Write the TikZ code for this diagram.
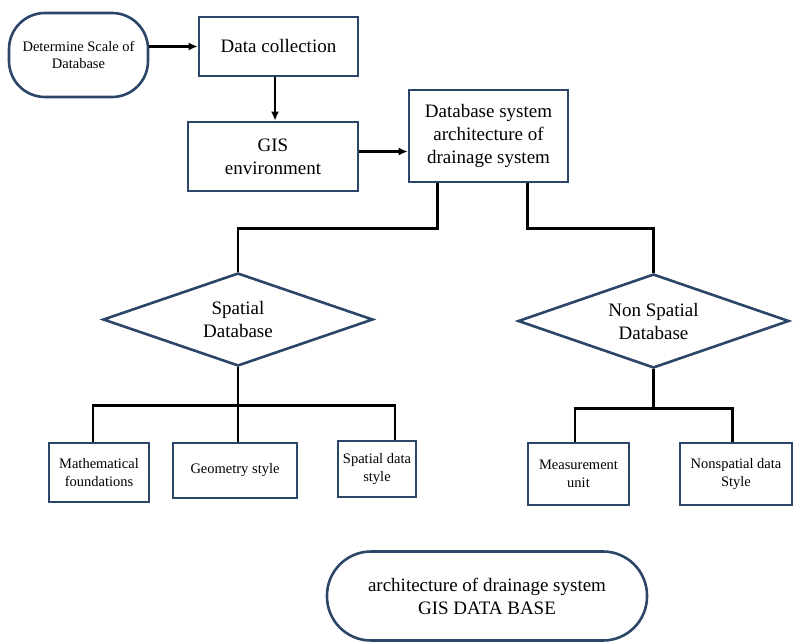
\documentclass[tikz,border=0pt]{standalone}
\usepackage{fontspec}
\setmainfont{Liberation Serif}
\usepackage{xcolor}
\usepackage{tikz}
\usetikzlibrary{
  arrows.meta,
  shapes,
  shapes.geometric,
  positioning,
  calc
}
\definecolor{boxline}{HTML}{2B4668}

\begin{document}
\begin{tikzpicture}[x=1pt, y=1pt,
  bigtext/.style={font=\fontsize{19}{23}\selectfont, align=center},
  smalltext/.style={font=\fontsize{14.5}{17.5}\selectfont, align=center},
  block/.style={draw=boxline, line width=2.6pt, fill=white, rectangle, inner sep=0pt},
  roundblock/.style={block, rounded corners=#1},
  decide/.style={draw=boxline, line width=2.6pt, fill=white, diamond, aspect=2.9, inner sep=0pt},
  link/.style={draw=black, line width=2.8pt},
  arrow/.style={link, -{Latex[length=9pt, width=8pt]}}
]
  \useasboundingbox (0,0) rectangle (794,-642);
  % top row
  \node[roundblock=36pt, smalltext, minimum width=139pt, minimum height=84pt] (scale) at (78.5,-55) {Determine Scale of\\Database};
  \node[block, bigtext, minimum width=159pt, minimum height=59pt] (collect) at (278.5,-46.5) {Data collection};
  \node[block, bigtext, minimum width=170pt, minimum height=69pt] (gis) at (273,-156.5) {GIS\\environment};
  \node[block, bigtext, minimum width=159pt, minimum height=92pt] (dbsys) at (488.5,-136) {Database system\\architecture of\\drainage system};
  % the two databases
  \node[decide, bigtext, minimum width=270pt, minimum height=93pt] (spatial) at (238,-319.5) {Spatial\\Database};
  \node[decide, bigtext, minimum width=271pt, minimum height=94pt] (nonspatial) at (653.5,-321) {Non Spatial\\Database};
  % leaves
  \node[block, smalltext, minimum width=100pt, minimum height=59pt] (math) at (99,-472.5) {Mathematical\\foundations};
  \node[block, smalltext, minimum width=124pt, minimum height=55pt] (geom) at (235,-470.5) {Geometry style};
  \node[block, smalltext, minimum width=78pt, minimum height=56pt] (sds) at (377,-469) {Spatial data\\style};
  \node[block, smalltext, minimum width=101pt, minimum height=62pt] (meas) at (578.5,-474) {Measurement\\unit};
  \node[block, smalltext, minimum width=112pt, minimum height=62pt] (nsds) at (736,-474) {Nonspatial data\\Style};
  % caption terminal
  \node[roundblock=44pt, bigtext, minimum width=320pt, minimum height=89pt] (caption) at (487,-596) {architecture of drainage system\\GIS DATA BASE};

  % arrows
  \draw[arrow] (collect.west -| scale.east) -- (collect.west);
  \draw[arrow] ([xshift=-3.5pt]collect.south) -- ([xshift=-3.5pt]collect.south |- gis.north);
  \draw[arrow] ([yshift=5pt]gis.east) -- ([yshift=5pt]gis.east -| dbsys.west);
  % split into the two databases
  \draw[link] ([xshift=30pt]dbsys.south west) -- ++(0,-45) -| (spatial.north);
  \draw[link] ([xshift=-42pt]dbsys.south east) -- ++(0,-45) -| (nonspatial.north);
  % spatial branch
  \coordinate (sbus) at ($(spatial.south)+(0,-38)$);
  \draw[link] ([xshift=-6pt]math.north) |- (sbus) -| ([xshift=18pt]sds.north);
  \draw[link] (spatial.south) -- (spatial.south |- geom.north);
  % non spatial branch
  \coordinate (nbus) at ($(nonspatial.south)+(0,-39)$);
  \draw[link] ([xshift=-3.5pt]meas.north) |- (nbus) -| ([xshift=-3.5pt]nsds.north);
  \draw[link] (nonspatial.south) -- (nbus);
\end{tikzpicture}
\end{document}
